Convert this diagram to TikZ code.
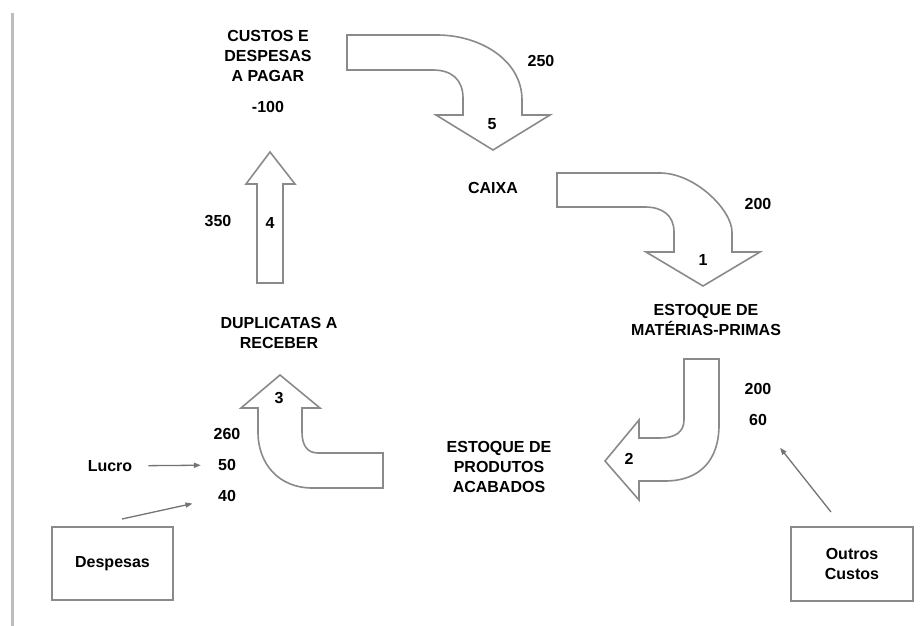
\documentclass[tikz,border=0pt]{standalone}
\usepackage{fontspec}
\setmainfont{Liberation Sans}
\usetikzlibrary{arrows.meta}
\definecolor{edgegray}{HTML}{8A8A8A}
\definecolor{railgray}{HTML}{BDBDBD}
\tikzset{
  lbl/.style={font=\fontsize{16}{20}\selectfont\bfseries, align=center, inner sep=0pt, text=black},
  blockarrow/.style={draw=edgegray, line width=1.6pt, fill=white, line join=miter},
  boxnode/.style={lbl, draw=edgegray, line width=1.6pt, minimum width=121pt, minimum height=73pt},
  thinarrow/.style={draw=black!55, line width=1.3pt, -{Triangle[length=7pt,width=5pt]}}
}
\begin{document}
\begin{tikzpicture}[x=1pt,y=-1pt]
\useasboundingbox (0,0) rectangle (923,626);
\draw[railgray, line width=3pt] (12,13) -- (12,626);

% block arrows
\path[blockarrow] (347,35) -- (437,35) .. controls (480,35) and (522,60) .. (522,100) -- (522,115) -- (550,115) -- (493,150) -- (436,115) -- (463,115) -- (463,98) .. controls (463,80) and (452,70) .. (433,70) -- (347,70) -- cycle;
\path[blockarrow] (557,173) -- (660,173) .. controls (695,173) and (732,210) .. (732,232) -- (732,252) -- (760,252) -- (703,286) -- (646,252) -- (674,252) -- (674,232) .. controls (674,215) and (662,207) .. (645,207) -- (557,207) -- cycle;
\path[blockarrow] (684,359) -- (719,359) -- (719,425) .. controls (719,460) and (700,481) .. (665,481) -- (639,481) -- (639,500) -- (605,461) -- (639,420) -- (639,438) -- (660,438) .. controls (675,438) and (684,432) .. (684,420) -- cycle;
\path[blockarrow] (383,453) -- (383,488) -- (312,488) .. controls (280,488) and (258,465) .. (258,432) -- (258,408) -- (241,408) -- (280,375) -- (320,408) -- (302,408) -- (302,432) .. controls (302,445) and (307,453) .. (318,453) -- cycle;
\path[blockarrow] (257,283) -- (257,184) -- (246,184) -- (270,152) -- (295,184) -- (283,184) -- (283,283) -- cycle;

% arrow numbers
\node[lbl] (n5) at (492,124) {5};
\node[lbl] (n1) at (703,260) {1};
\node[lbl] (n2) at (629,459) {2};
\node[lbl] (n3) at (279,398) {3};
\node[lbl] (n4) at (270,223) {4};

% account labels
\node[lbl] (custos) at (268,56) {CUSTOS E\\DESPESAS\\A PAGAR};
\node[lbl] (m100) at (268,107) {-100};
\node[lbl] (caixa) at (493,188) {CAIXA};
\node[lbl] (estmp) at (706,320) {ESTOQUE DE\\MATÉRIAS-PRIMAS};
\node[lbl] (estpa) at (499,467) {ESTOQUE DE\\PRODUTOS\\ACABADOS};
\node[lbl] (dup) at (279,333) {DUPLICATAS A\\RECEBER};

% values
\node[lbl] (v250) at (541,61) {250};
\node[lbl] (v200a) at (758,204) {200};
\node[lbl] (v200b) at (758,389) {200};
\node[lbl] (v60) at (758,420) {60};
\node[lbl] (v350) at (218,221) {350};
\node[lbl] (v260) at (227,434) {260};
\node[lbl] (v50) at (227,465) {50};
\node[lbl] (v40) at (227,496) {40};
\node[lbl] (lucro) at (110,466) {Lucro};

% boxes
\node[boxnode] (desp) at (112.5,563.5) {Despesas};
\node[boxnode, minimum width=122pt, minimum height=74pt] (outros) at (852,564) {Outros\\Custos};

% thin arrows
\coordinate (despA) at (122,519);
\coordinate (outA) at (831,512);
\draw[thinarrow, shorten <=16pt, shorten >=17pt] (lucro) -- (v50);
\draw[thinarrow, shorten >=26pt] (despA) -- (v40);
\draw[thinarrow, shorten >=28pt] (outA) -- (v60);
\end{tikzpicture}
\end{document}
